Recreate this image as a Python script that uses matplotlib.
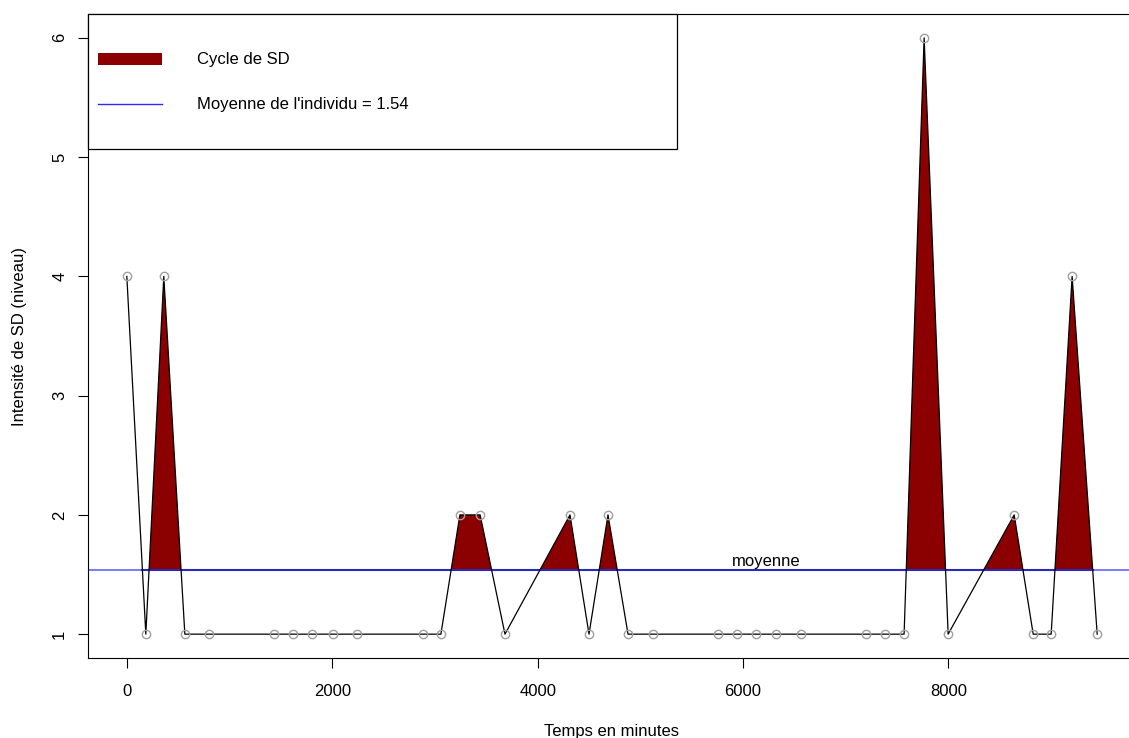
import numpy as np
import matplotlib.pyplot as plt
from matplotlib.patches import Rectangle

plt.rcParams['font.family'] = ['Liberation Sans', 'DejaVu Sans']

# Time of each observation (minutes) and SD level
temps = [0, 185, 360, 565, 800, 1430, 1617, 1800, 2005, 2240, 2883, 3058,
         3243, 3440, 3682, 4315, 4500, 4685, 4880, 5123, 5756, 5941, 6126,
         6321, 6565, 7198, 7383, 7568, 7763, 7997, 8640, 8825, 9000, 9204, 9448]
niveau = [4, 1, 4, 1, 1, 1, 1, 1, 1, 1, 1, 1,
          2, 2, 1, 2, 1, 2, 1, 1, 1, 1, 1,
          1, 1, 1, 1, 1, 6, 1, 2, 1, 1, 4, 1]
moyenne = 1.54

x = np.array(temps, dtype=float)
y = np.array(niveau, dtype=float)

fig = plt.figure(figsize=(11.29, 7.38), dpi=100)
ax = fig.add_axes([88 / 1129, 1 - 658 / 738, 1048 / 1129, 644 / 738])

# cycles above the mean (the first observation does not start a cycle)
au_dessus = y > moyenne
au_dessus[0] = False
ax.fill_between(x, y, moyenne, where=au_dessus, interpolate=True,
                color='#8B0000', linewidth=0, zorder=2)

# mean line: light across the plot, darker between first and last crossing
ax.axhline(moyenne, color='#7070ff', linewidth=1.3, zorder=1)
cross = []
for i in range(len(x) - 1):
    if (y[i] - moyenne) * (y[i + 1] - moyenne) < 0:
        cross.append(x[i] + (moyenne - y[i]) / (y[i + 1] - y[i]) * (x[i + 1] - x[i]))
ax.plot([cross[0], cross[-1]], [moyenne, moyenne], color='#2a2ab8',
        linewidth=1.5, zorder=3)

ax.plot(x, y, color='black', linewidth=0.9, zorder=4)
ax.plot(x, y, 'o', markerfacecolor='none', markeredgecolor='#a0a0a0',
        markersize=6, markeredgewidth=1, zorder=5)

ax.text(6230, moyenne + 0.01, "moyenne", ha='center', va='bottom', fontsize=12)

ax.set_xlim(-378, 9826)
ax.set_ylim(0.8, 6.2)
ax.set_xticks([0, 2000, 4000, 6000, 8000])
ax.set_yticks([1, 2, 3, 4, 5, 6])
ax.tick_params(direction='out', length=7, width=0.8, labelsize=12)
ax.tick_params(axis='x', pad=12)
ax.tick_params(axis='y', pad=8)
plt.setp(ax.get_yticklabels(), rotation=90, va='center')
ax.set_xlabel("Temps en minutes", fontsize=12, labelpad=17.5)
ax.set_ylabel("Intensité de SD (niveau)", fontsize=12, labelpad=18)

# legend box drawn by hand, like R's legend()
ax.add_patch(Rectangle((0, 0.790), 0.562, 0.21, transform=ax.transAxes,
                       facecolor='white', edgecolor='black', linewidth=0.9,
                       zorder=6, clip_on=False))
ax.add_patch(Rectangle((0.0095, 0.921), 0.061, 0.0184, transform=ax.transAxes,
                       facecolor='#8B0000', edgecolor='none', zorder=7))
ax.plot([0.0095, 0.0706], [0.860, 0.860], transform=ax.transAxes,
        color='#2a2aff', linewidth=1, zorder=7)
ax.text(0.104, 0.930, "Cycle de SD", transform=ax.transAxes,
        va='center', ha='left', fontsize=12, zorder=7)
ax.text(0.104, 0.860, "Moyenne de l'individu = 1.54", transform=ax.transAxes,
        va='center', ha='left', fontsize=12, zorder=7)

fig.savefig("out.png", dpi=100)
